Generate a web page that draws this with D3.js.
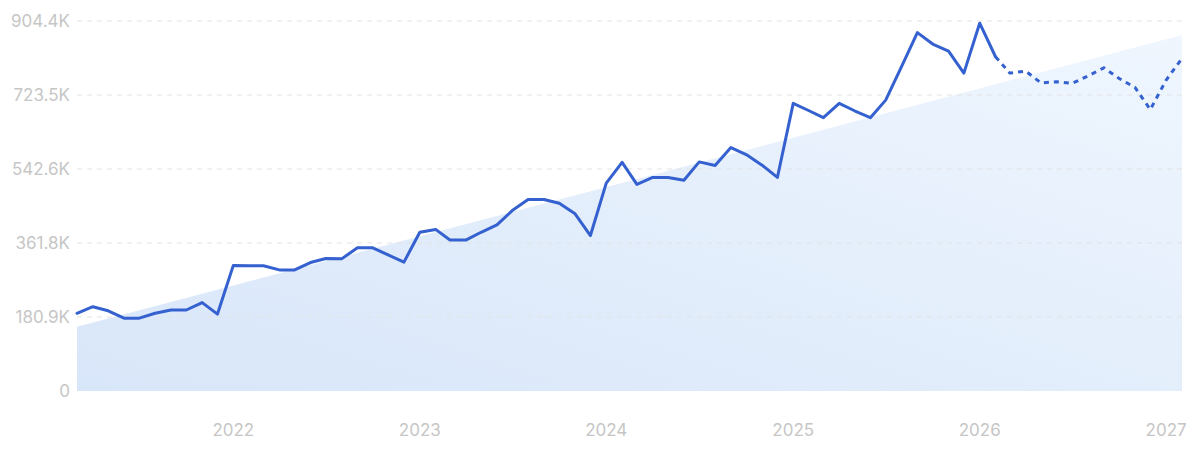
<!DOCTYPE html>
<html>
<head>
<meta charset="utf-8">
<script src="https://cdn.jsdelivr.net/npm/d3@7/dist/d3.min.js"></script>
<style>
  html, body { margin: 0; padding: 0; background: #fff; }
  svg { display: block; }
  .tick-label { font-family: Inter, "Noto Sans", sans-serif; font-size: 17px; fill: #c6c6c6; }
  .grid { stroke: #e3e3e3; stroke-width: 1; stroke-dasharray: 5 5; }
</style>
</head>
<body>
<svg id="chart" width="1200" height="452"></svg>
<script>
// ----- data (monthly, Mar 2021 .. Feb 2027) -----
const startMonth = "2021-03";
const actualValues = [
  190, 206, 196, 178, 178, 190, 198, 198, 216, 188,
  307, 306, 306, 296, 296, 314, 324, 323, 350, 350, 332, 315,
  388, 395, 369, 369, 388, 406, 441, 468, 468, 459, 433, 380,
  508, 559, 505, 522, 522, 515, 560, 551, 595, 578, 552, 522,
  703, 685, 668, 703, 685, 668, 711, 793, 876, 848, 831, 777,
  899, 817
]; // thousands
const forecastValues = [
  817, 777, 782, 753, 756, 752, 770, 790, 764, 742, 688, 760, 813
]; // thousands, starts at last actual month
const trendEnds = [157, 870]; // thousands, at first and last month
const yTicks = [0, 180.9, 361.8, 542.6, 723.5, 904.4];
const yTickLabels = ["0", "180.9K", "361.8K", "542.6K", "723.5K", "904.4K"];
const xTickYears = [2022, 2023, 2024, 2025, 2026, 2027];

const svg = d3.select("#chart");
const plotLeft = 77, plotRight = 1182, plotTop = 21, plotBottom = 391;

const parseMonth = d3.timeParse("%Y-%m");
const firstDate = parseMonth(startMonth);
const monthAt = i => d3.timeMonth.offset(firstDate, i);

const actual = actualValues.map((v, i) => ({ date: monthAt(i), value: v }));
const offset = actualValues.length - 1;
const forecast = forecastValues.map((v, i) => ({ date: monthAt(offset + i), value: v }));
const lastDate = forecast[forecast.length - 1].date;

const x = d3.scaleTime().domain([firstDate, lastDate]).range([plotLeft, plotRight]);
const y = d3.scaleLinear().domain([0, 904.4]).range([plotBottom, plotTop]);

// gradient for trend area
const defs = svg.append("defs");
const grad = defs.append("linearGradient")
  .attr("id", "trendFill")
  .attr("x1", 0).attr("y1", 1).attr("x2", 1).attr("y2", 0);
grad.append("stop").attr("offset", 0).attr("stop-color", "#d8e6f9");
grad.append("stop").attr("offset", 1).attr("stop-color", "#eff6fe");

// ----- trend area -----
const trend = [
  { date: firstDate, value: trendEnds[0] },
  { date: lastDate, value: trendEnds[1] }
];
svg.append("path")
  .datum(trend)
  .attr("fill", "url(#trendFill)")
  .attr("d", d3.area().x(d => x(d.date)).y0(y(0)).y1(d => y(d.value)));

// ----- grid + y labels -----
svg.append("g")
  .selectAll("line")
  .data(yTicks.slice(1))
  .join("line")
  .attr("class", "grid")
  .attr("x1", plotLeft).attr("x2", plotRight)
  .attr("y1", d => y(d)).attr("y2", d => y(d));

svg.append("g")
  .selectAll("text")
  .data(yTicks)
  .join("text")
  .attr("class", "tick-label")
  .attr("x", plotLeft - 7)
  .attr("y", d => y(d))
  .attr("dy", "0.35em")
  .attr("text-anchor", "end")
  .text((d, i) => yTickLabels[i]);

// ----- x labels -----
svg.append("g")
  .selectAll("text")
  .data(xTickYears)
  .join("text")
  .attr("class", "tick-label")
  .attr("x", d => x(new Date(d, 0, 1)))
  .attr("y", 430)
  .attr("dy", "0.35em")
  .attr("text-anchor", "middle")
  .text(d => d);

// ----- lines -----
const line = d3.line().x(d => x(d.date)).y(d => y(d.value));

svg.append("path")
  .datum(forecast)
  .attr("fill", "none")
  .attr("stroke", "#3461cf")
  .attr("stroke-width", 3)
  .attr("stroke-dasharray", "5 5")
  .attr("stroke-linejoin", "round")
  .attr("d", line);

svg.append("path")
  .datum(actual)
  .attr("fill", "none")
  .attr("stroke", "#3461cf")
  .attr("stroke-width", 3)
  .attr("stroke-linejoin", "round")
  .attr("stroke-linecap", "round")
  .attr("d", line);
</script>
</body>
</html>
